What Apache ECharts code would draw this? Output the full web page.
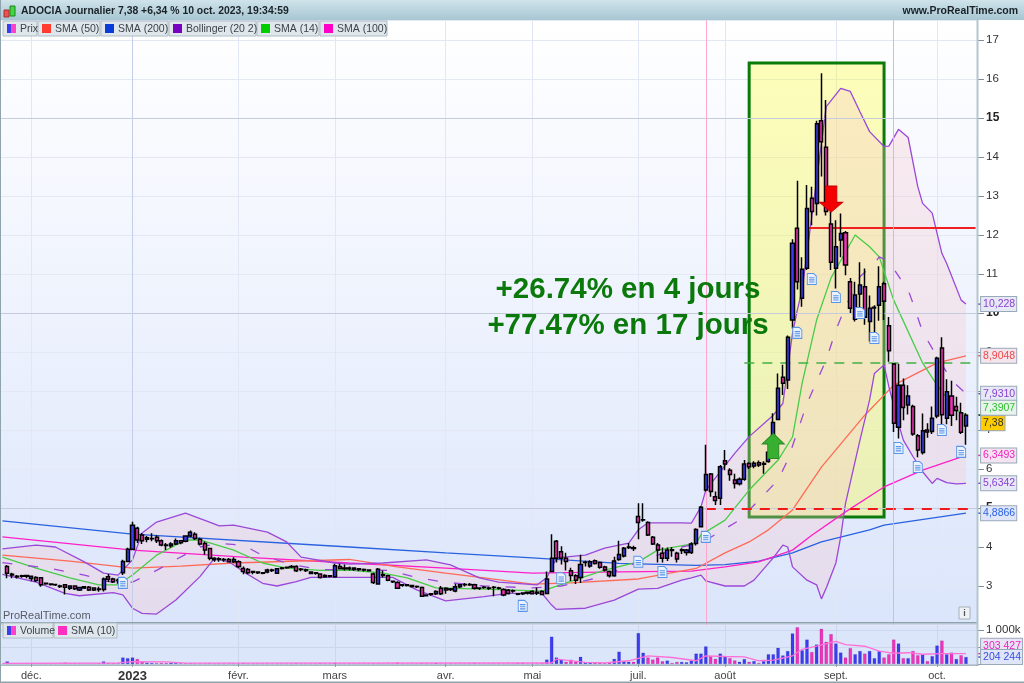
<!DOCTYPE html>
<html><head><meta charset="utf-8">
<style>html,body{margin:0;padding:0;background:#fff}#c{width:1024px;height:683px}</style>
<script src="https://cdn.jsdelivr.net/npm/echarts@6/dist/echarts.min.js"></script>
</head><body><div id="c"></div>
<script>
// [open, close, low, high] per session
const candles=[
[3.50,3.33,3.20,3.54],[3.30,3.28,3.20,3.34],[3.25,3.24,3.19,3.28],[3.26,3.25,3.21,3.29],[3.27,3.25,3.20,3.29],[3.19,3.25,3.12,3.27],[3.22,3.14,3.10,3.25],[3.21,3.03,2.98,3.23],[3.07,3.06,3.03,3.09],[3.05,3.04,3.01,3.07],
[3.04,3.03,3.00,3.06],[3.00,2.99,2.95,3.03],[3.03,2.97,2.78,3.05],[2.94,3.00,2.90,3.02],[3.00,2.93,2.90,3.02],[2.90,2.96,2.87,2.98],[2.98,2.95,2.92,3.00],[2.97,2.90,2.87,3.00],[2.95,2.90,2.87,2.97],[2.92,2.91,2.85,2.98],
[2.91,3.18,2.86,3.22],[3.24,3.17,3.10,3.31],[3.18,3.11,3.08,3.21],[3.15,3.14,3.06,3.19],[3.34,3.63,3.28,3.67],[3.63,3.94,3.62,3.98],[3.94,4.56,3.94,4.65],[4.48,4.18,4.10,4.52],[4.31,4.16,4.08,4.36],[4.24,4.20,4.12,4.28],
[4.22,4.21,4.15,4.35],[4.25,4.16,4.10,4.30],[4.16,4.05,4.02,4.19],[4.05,4.04,3.92,4.10],[4.03,4.08,3.98,4.12],[4.08,4.16,4.05,4.22],[4.16,4.11,4.07,4.18],[4.15,4.28,4.12,4.30],[4.28,4.38,4.25,4.42],[4.33,4.22,4.18,4.38],
[4.20,4.08,4.04,4.24],[4.09,3.92,3.80,4.14],[3.96,3.71,3.66,3.98],[3.71,3.67,3.62,3.74],[3.70,3.68,3.62,3.74],[3.68,3.67,3.62,3.72],[3.68,3.62,3.60,3.72],[3.62,3.68,3.59,3.74],[3.62,3.50,3.46,3.66],[3.45,3.37,3.30,3.50],
[3.42,3.34,3.30,3.46],[3.37,3.35,3.30,3.39],[3.36,3.34,3.31,3.38],[3.34,3.33,3.30,3.36],[3.36,3.41,3.33,3.44],[3.41,3.40,3.36,3.44],[3.33,3.44,3.31,3.46],[3.46,3.45,3.42,3.49],[3.48,3.47,3.44,3.50],[3.50,3.49,3.46,3.54],
[3.50,3.39,3.36,3.53],[3.43,3.42,3.38,3.46],[3.41,3.40,3.36,3.44],[3.36,3.32,3.30,3.38],[3.34,3.33,3.29,3.36],[3.31,3.22,3.19,3.33],[3.27,3.24,3.21,3.30],[3.26,3.25,3.22,3.28],[3.24,3.52,3.21,3.57],[3.50,3.45,3.42,3.58],
[3.46,3.44,3.40,3.55],[3.46,3.44,3.40,3.50],[3.46,3.43,3.39,3.48],[3.44,3.42,3.38,3.46],[3.42,3.41,3.37,3.45],[3.41,3.39,3.37,3.43],[3.31,3.09,3.05,3.34],[3.05,3.43,3.04,3.46],[3.29,3.27,3.22,3.40],[3.26,3.15,3.12,3.29],
[3.12,3.11,3.08,3.14],[3.09,2.94,2.92,3.12],[3.03,3.02,2.98,3.05],[3.03,3.01,2.99,3.05],[3.01,2.99,2.96,3.03],[2.99,2.98,2.95,3.01],[2.96,2.74,2.72,2.99],[2.77,2.75,2.73,2.79],[2.80,2.79,2.75,2.82],[2.80,2.86,2.77,2.89],
[2.94,2.80,2.77,3.00],[2.94,2.90,2.80,2.97],[2.92,2.91,2.87,2.95],[2.87,2.98,2.84,3.06],[2.98,3.03,2.95,3.05],[3.04,3.03,2.99,3.08],[3.04,3.03,3.00,3.08],[3.03,2.94,2.91,3.06],[2.95,2.94,2.90,2.97],[2.97,2.96,2.93,3.00],
[2.95,2.94,2.90,2.98],[2.97,2.96,2.74,3.00],[2.95,2.94,2.91,2.98],[2.91,2.77,2.74,2.94],[2.89,2.81,2.78,2.92],[2.88,2.87,2.83,2.91],[2.80,2.79,2.76,2.82],[2.82,2.80,2.77,2.84],[2.84,2.82,2.78,2.86],[2.86,2.80,2.78,2.89],
[2.84,2.82,2.77,2.96],[2.86,2.78,2.76,2.89],[2.81,3.18,2.79,3.37],[3.37,3.71,3.35,4.33],[4.15,3.71,3.60,4.18],[3.88,3.71,3.55,4.02],[3.71,3.63,3.40,3.85],[3.39,3.27,3.13,3.47],[3.26,3.15,3.05,3.30],[3.22,3.55,3.08,3.80],
[3.61,3.60,3.50,3.65],[3.51,3.62,3.47,3.66],[3.65,3.58,3.55,3.68],[3.60,3.48,3.44,3.63],[3.49,3.41,3.37,3.52],[3.37,3.26,3.22,3.40],[3.26,3.64,3.24,3.75],[3.68,3.81,3.65,4.16],[3.77,3.97,3.73,4.00],[4.00,3.99,3.95,4.10],
[3.98,3.96,3.90,4.03],[4.78,4.63,4.20,5.12],[4.70,4.69,4.65,5.12],[4.63,4.31,4.28,4.66],[4.25,4.08,4.05,4.28],[4.05,3.92,3.60,4.10],[3.84,3.71,3.60,3.99],[3.71,3.92,3.64,3.99],[3.93,3.91,3.75,4.00],[3.84,3.69,3.60,3.88],
[3.93,3.91,3.82,3.97],[3.86,3.92,3.78,3.95],[3.86,4.08,3.82,4.12],[4.09,4.45,4.04,4.48],[4.52,5.02,4.50,5.05],[5.46,5.86,5.42,6.62],[5.87,5.42,5.29,5.90],[5.29,5.19,5.08,5.42],[5.25,6.06,5.08,6.10],[6.21,6.13,5.97,6.49],
[5.97,5.86,5.70,6.02],[5.72,5.63,5.50,5.88],[5.62,5.74,5.58,5.78],[5.74,6.13,5.70,6.23],[6.14,6.06,6.00,6.17],[6.08,6.15,6.02,6.20],[6.16,6.10,6.05,6.22],[6.14,6.12,5.88,6.20],[6.19,6.43,6.16,6.47],[6.43,7.19,6.42,7.43],
[7.27,8.07,7.25,8.45],[8.35,8.20,7.90,8.67],[8.28,9.38,8.05,9.42],[9.82,11.79,9.60,11.89],[12.17,10.80,10.60,13.39],[10.38,11.12,10.16,11.43],[11.15,12.68,11.10,13.28],[12.94,12.60,12.25,13.24],[12.81,14.85,12.50,14.93],[14.93,14.39,13.50,16.15],
[14.25,12.60,12.50,15.46],[12.28,11.30,11.10,12.60],[11.15,11.70,10.63,12.38],[11.87,12.04,11.43,12.55],[12.06,11.23,10.97,12.10],[10.80,10.12,10.00,10.90],[9.84,10.46,9.78,10.80],[10.49,10.72,10.00,11.30],[10.67,9.89,9.70,11.14],[9.78,10.12,9.27,10.45],
[10.13,10.15,9.30,10.20],[10.20,10.67,9.80,11.20],[10.75,10.30,9.82,10.80],[9.67,9.03,8.75,9.90],[8.69,7.17,6.95,8.72],[7.07,8.15,6.78,8.70],[8.15,7.58,7.25,8.32],[7.64,7.87,7.40,8.15],[7.60,6.90,6.85,7.65],[6.85,6.49,6.30,6.90],
[6.42,6.98,6.37,7.42],[7.00,6.95,6.80,7.17],[6.96,7.30,6.90,7.60],[7.36,8.84,7.30,8.88],[9.10,7.39,6.92,9.38],[7.30,7.98,7.15,8.30],[7.87,7.38,7.10,8.26],[7.60,7.50,7.25,7.85],[7.44,6.94,6.90,7.70],[7.10,7.38,6.62,7.43]
];
const volumes=[75,20,20,20,20,20,20,20,15,15,15,20,40,20,20,15,15,15,15,20,75,30,25,20,190,170,190,145,65,40,30,25,30,30,35,30,25,20,20,15,15,15,20,15,15,15,15,15,15,30,
15,15,15,15,15,15,15,15,15,15,25,15,15,15,15,25,15,15,30,15,15,15,15,15,15,15,15,15,15,15,15,40,15,15,15,15,25,15,15,35,15,15,15,15,15,15,15,30,15,15,
15,15,15,15,15,15,30,30,15,15,15,30,130,800,190,125,65,125,65,210,55,50,40,35,30,40,150,360,85,65,65,905,330,190,130,190,80,100,30,60,60,50,100,305,305,515,
230,150,305,210,170,105,65,145,65,85,30,85,285,285,475,250,380,895,1075,400,715,350,570,1030,650,875,600,335,190,465,285,380,305,380,170,380,190,285,715,600,170,170,380,255,285,85,230,540,685,285,335,145,255,204];
// indicator readings: [session index, value]
const sma200=[[0,4.67],[27,4.33],[72,4.0],[92,3.85],[110,3.72],[128,3.58],[144,3.53],[150,3.55],[157,3.64],[164,3.85],[170,4.13],[180,4.44],[183,4.56],[200,4.87]];
const sma100=[[0,4.26],[27,3.92],[50,3.74],[72,3.59],[92,3.46],[110,3.33],[128,3.36],[143,3.38],[150,3.49],[157,3.62],[164,3.92],[168,4.30],[175,4.9],[183,5.54],[191,5.97],[200,6.35]];
const sma50=[[0,3.79],[14,3.64],[27,3.46],[37,3.51],[48,3.59],[72,3.68],[82,3.49],[92,3.33],[100,3.21],[110,3.05],[118,3.08],[132,3.18],[144,3.45],[150,3.85],[155,4.13],[159,4.44],[164,4.95],[170,6.05],[179,7.38],[185,8.15],[194,8.72],[200,8.9]];
const sma14=[[0,3.74],[7,3.46],[14,3.21],[20,3.03],[24,3.03],[27,3.28],[32,3.79],[38,4.18],[41,4.18],[48,3.92],[54,3.59],[59,3.46],[66,3.40],[72,3.41],[79,3.33],[84,3.21],[90,2.95],[100,2.92],[112,2.87],[117,3.08],[125,3.41],[132,3.62],[136,3.92],[144,4.10],[145,4.31],[150,4.69],[155,5.46],[161,6.23],[164,6.82],[166,8.2],[169,9.82],[172,10.9],[177,12.0],[180,11.7],[182,11.44],[185,10.33],[191,8.72],[194,8.15],[198,7.51],[200,7.39]];
const bollUpper=[[0,3.95],[7,4.05],[11,4.0],[17,3.62],[21,3.33],[24,3.28],[27,3.67],[29,4.36],[32,4.64],[38,4.87],[43,4.64],[45,4.54],[48,4.56],[55,4.38],[59,4.13],[62,3.74],[69,3.59],[72,3.56],[79,3.59],[88,3.67],[93,3.54],[99,3.21],[103,3.10],[111,3.03],[113,3.21],[115,3.72],[121,3.79],[125,3.97],[130,4.10],[132,4.44],[134,4.62],[141,4.62],[143,4.61],[145,5.03],[146,5.46],[152,6.4],[155,6.83],[160,7.38],[162,7.68],[164,9.48],[165,10.08],[166,10.59],[171,15.29],[174,15.76],[176,15.68],[178,15.16],[180,14.65],[183,14.27],[184,14.28],[186,14.71],[188,14.5],[190,13.24],[191,12.81],[193,12.56],[195,11.53],[196,11.27],[199,10.33],[200,10.23]];
const bollLower=[[0,3.3],[7,3.1],[13,2.81],[16,2.75],[23,2.83],[25,2.77],[27,2.43],[29,2.30],[32,2.28],[36,2.64],[41,3.24],[44,3.71],[47,3.62],[50,3.37],[54,3.07],[57,3.0],[61,3.11],[64,3.22],[72,3.22],[81,3.22],[86,2.9],[92,2.62],[100,2.73],[105,2.81],[112,2.81],[114,2.51],[115,2.4],[121,2.43],[127,2.64],[132,2.92],[136,2.94],[141,3.15],[143,3.21],[145,3.28],[146,3.13],[150,3.0],[154,3.0],[156,3.15],[160,3.72],[162,4.05],[163,4.0],[164,3.49],[167,3.15],[169,3.03],[170,2.67],[171,2.95],[173,3.59],[174,4.26],[175,5.12],[178,6.74],[180,7.77],[181,8.45],[183,8.67],[184,8.11],[186,7.17],[187,6.74],[189,6.32],[191,5.93],[193,5.63],[194,5.76],[196,5.65],[198,5.62],[200,5.63]];
const bollMid=[[0,3.6],[10,3.45],[17,3.28],[22,3.11],[27,3.1],[32,3.4],[36,3.68],[41,4.0],[45,4.09],[50,4.05],[54,3.78],[60,3.55],[66,3.42],[72,3.42],[80,3.4],[86,3.22],[91,3.11],[100,3.0],[110,2.95],[116,3.0],[124,3.22],[132,3.62],[141,4.0],[145,4.1],[153,4.69],[157,5.2],[161,5.72],[163,6.23],[167,7.68],[171,8.8],[173,9.56],[175,10.16],[178,10.93],[181,11.27],[182,11.44],[184,11.32],[187,10.76],[188,10.59],[189,10.25],[191,9.52],[194,8.88],[197,8.28],[200,7.93]];
const volSma=[[0,20],[24,30],[27,70],[34,60],[38,25],[110,30],[114,30],[115,140],[121,50],[125,30],[130,95],[134,240],[139,190],[144,95],[146,240],[150,220],[154,210],[157,95],[160,115],[164,240],[166,430],[169,520],[173,665],[175,570],[179,520],[182,380],[185,315],[188,330],[191,285],[195,305],[200,303]];
const monthLabels={6:'déc.',27:'2023',49:'févr.',69:'mars',92:'avr.',110:'mai',132:'juil.',150:'août',173:'sept.',194:'oct.'};
const noteIdx=[25,108,116,132,137,146,165,168,173,178,181,186,190,195,199];
const noteVal=[3.08,2.49,3.2,3.62,3.36,4.26,9.49,10.87,10.41,10.0,9.36,6.54,6.05,7.0,6.44];
const priceTags=[[10.228,'10,228','#8a3fd0','#e6e8f6',0],[8.9048,'8,9048','#f04848','#f4e4ec',0],[7.931,'7,9310','#8a3fd0','#e6e8f6',0],[7.3907,'7,3907','#30c030','#e6f4ea',-7],[7.38,'7,38','#333333','#ffcc00',8],[6.3493,'6,3493','#f020c0','#f4e4f2',0],[5.6342,'5,6342','#8a3fd0','#e6e8f6',0],[4.8666,'4,8866','#2a62e0','#dfe6fa',0]];
const volTags=[[303.427,'303 427','#f020c0','#e8e4f6',-8],[204.244,'204 244','#3a4ae0','#dfe6fa',0]];
const legendMain=[['Prix',null,34],['SMA (50)','#ff3b30',62],['SMA (200)','#0a3cd8',67],['Bollinger (20 2)','#7a00c0',87],['SMA (14)','#00cc00',62],['SMA (100)','#ff00c8',67]];
const legendVol=[['Volume',null,50],['SMA (10)','#ff30c0',63]];
const levels={red:12.19,green:8.73,redDash:4.97};

const FONT='"Liberation Sans",Arial,sans-serif', UP='#3c3cf0', DOWN='#f232b8';
const cats=Array.from({length:203},(_,i)=>monthLabels[i]||'');
const isMonth=i=>monthLabels[i]!==undefined;
const rows=[['-','-','-','-']].concat(candles);
const volBars=[{value:'-'}].concat(volumes.map((v,i)=>({value:v,itemStyle:{color:(i>0&&candles[i][1]<candles[i-1][1])?DOWN:UP}})));

function line(data,color,extra){return Object.assign({type:'line',data,showSymbol:false,symbol:'none',silent:true,z:4,clip:true,lineStyle:{color,width:1.3},xAxisIndex:0,yAxisIndex:0},extra||{});}
function tagPoints(tags){return tags.map(t=>({coord:[202,t[0]],symbol:'rect',symbolSize:[5,1.5],symbolOffset:[4,0],itemStyle:{color:t[2]},
  label:{show:true,position:'right',distance:0,offset:[-1,t[4]],formatter:t[1],color:t[2],fontFamily:FONT,fontSize:10.5,backgroundColor:t[3],borderColor:'#9aa9b8',borderWidth:1,padding:[2,1,1,2]}}));}

const gfx=[];
function R(x,y,w,h,fill,stroke,z,lw){gfx.push({type:'rect',shape:{x,y,width:w,height:h},silent:true,z:z,style:{fill,stroke:stroke||null,lineWidth:lw||1}});}
function T(x,y,text,font,fill,z,extra){gfx.push({type:'text',x,y,silent:true,z:z,style:Object.assign({text,font,fill,textVerticalAlign:'middle'},extra||{})});}
const grad=(c0,c1)=>({type:'linear',x:0,y:0,x2:0,y2:1,colorStops:[{offset:0,color:c0},{offset:1,color:c1}]});
// backgrounds
R(0,20,977,603,grad('#ffffff','#dbe5fb'),null,-5);
R(0,623,977,42,'#dce6fb',null,-5);
// header
R(0,0,1024,20,grad('#cfe3ea','#a7c6d2'),null,50);
R(4,10,5,7,'#f05050','#a03030',51);R(10,6,5,10,'#40d840','#208020',51);
T(21,11,'ADOCIA Journalier 7,38 +6,34 % 10 oct. 2023, 19:34:59','bold 10.4px '+FONT,'#1a2228',51);
T(1018,11,'www.ProRealTime.com','bold 10.5px '+FONT,'#1a2228',51,{textAlign:'right'});
// frames
R(0,622,977,1.6,'#8fa3ad',null,20);
R(976.5,20,2,646,'#b4c6cf',null,20);
R(0,664.8,978,1,'#8fa3ad',null,20);
R(0,681.5,1024,1.5,'#8fa3ad',null,50);
R(0,0,1,683,'#8fa3ad',null,50);
function chips(list,x0,y0){let x=x0;list.forEach(c=>{R(x,y0,c[2],15,'#dfe7ec','#aebcc4',52);
  if(c[1])R(x+4,y0+3,9,9,c[1],null,53);else{R(x+4,y0+3,4.5,9,'#3c3cf0',null,53);R(x+8.5,y0+3,4.5,9,'#ff40c8',null,53);}
  T(x+17,y0+8,c[0],'10.5px '+FONT,'#3c4348',53);x+=c[2]+1;});}
chips(legendMain,3,21);chips(legendVol,3,623);
T(3,616,'ProRealTime.com','11px '+FONT,'#555c62',30);
R(959,607,11,12,'#eef1f6','#a8b0b8',30);T(964.5,613.5,'i','bold 9px '+FONT,'#555',31,{textAlign:'center'});
T(628,290,'+26.74% en 4 jours','bold 29.5px '+FONT,'#0a780a',40,{textAlign:'center'});
T(628,326,'+77.47% en 17 jours','bold 29.5px '+FONT,'#0a780a',40,{textAlign:'center'});

const chart=echarts.init(document.getElementById('c'),null,{renderer:'canvas'});
chart.setOption({
 animation:false,
 graphic:{elements:gfx},
 grid:[{left:-2,width:980,top:20.5,height:604.5,containLabel:false},{left:-2,width:980,top:624,height:41,containLabel:false}],
 xAxis:[
  {type:'category',gridIndex:0,data:cats,boundaryGap:true,axisLine:{show:false},axisTick:{show:false},axisLabel:{show:false},
   splitLine:{show:true,alignWithLabel:true,interval:i=>isMonth(i),lineStyle:{color:'#e2e7f5',width:1}}},
  {type:'category',gridIndex:1,data:cats,boundaryGap:true,axisLine:{show:false},
   axisTick:{show:true,alignWithLabel:true,interval:i=>isMonth(i),length:3,lineStyle:{color:'#8fa3ad'}},
   axisLabel:{show:true,interval:i=>isMonth(i),margin:6,fontFamily:FONT,fontSize:11,color:'#444',hideOverlap:false,showMinLabel:true,showMaxLabel:true,
     formatter:v=>v==='2023'?'{b|2023}':v,rich:{b:{fontFamily:FONT,fontSize:13,fontWeight:'bold',color:'#333'}}},
   splitLine:{show:true,alignWithLabel:true,interval:i=>isMonth(i),lineStyle:{color:'#cdd6ec',width:1}}}
 ],
 yAxis:[
  {type:'value',gridIndex:0,position:'right',min:2,max:17.5,interval:1,axisLine:{show:false},
   axisTick:{show:true,length:6,lineStyle:{color:'#7f8f9a'}},
   axisLabel:{margin:8,showMaxLabel:false,showMinLabel:false,fontFamily:FONT,fontSize:11.5,color:'#333',
    formatter:v=>(v%5===0)?`{b|${v}}`:String(v),rich:{b:{fontFamily:FONT,fontSize:12,fontWeight:'bold',color:'#222'}}},
   splitLine:{show:true,lineStyle:{color:'#e4e8f4',width:1}}},
  {type:'value',gridIndex:1,position:'right',min:0,max:1171,interval:500,axisLine:{show:false},
   axisTick:{show:true,length:6,lineStyle:{color:'#7f8f9a'}},
   axisLabel:{margin:8,showMaxLabel:false,fontFamily:FONT,fontSize:11.5,color:'#333',formatter:v=>v===1000?'1 000k':''},
   splitLine:{show:true,lineStyle:{color:'#cdd6ec',width:1}}}
 ],
 series:[
  // yellow fill and strong grid levels behind everything
  {type:'line',data:[],z:1,silent:true,
   markArea:{silent:true,itemStyle:{color:'rgba(255,255,0,0.27)'},data:[[{coord:[155,16.41]},{coord:[183,4.77]}]]},
   markLine:{silent:true,symbol:'none',label:{show:false},lineStyle:{color:'#c6cbdb',type:'solid',width:1},
     data:[{yAxis:5},{yAxis:10},{yAxis:15},{xAxis:27,lineStyle:{color:'#c4cee8'}}]}},
  {type:'custom',silent:true,z:1,clip:true,data:[0],renderItem:(p,api)=>{
    const pts=bollUpper.map(d=>api.coord(d)).concat(bollLower.slice().reverse().map(d=>api.coord(d)));
    return {type:'polygon',shape:{points:pts},style:{fill:'rgba(250,200,205,0.3)',stroke:null}};}},
  line(sma200,'#2a62e0',{name:'SMA (200)'}),
  line(sma100,'#ff20c8',{name:'SMA (100)'}),
  line(sma50,'#ff6a58',{name:'SMA (50)'}),
  line(sma14,'#48cc48',{name:'SMA (14)'}),
  line(bollUpper,'#9a48d8',{name:'Bollinger haut'}),
  line(bollLower,'#9a48d8',{name:'Bollinger bas'}),
  line(bollMid,'#9a48d8',{name:'Bollinger milieu',lineStyle:{color:'#9a48d8',width:1.3,type:[10,16]}}),
  {type:'candlestick',name:'Prix',data:rows,barWidth:3.6,silent:true,z:5,
   itemStyle:{color:UP,color0:DOWN,borderColor:'#000',borderColor0:'#000',borderColorDoji:'#000',borderWidth:1.5}},
  // annotation levels, pink verticals, green box
  {type:'line',data:[],z:6,silent:true,
   markLine:{silent:true,symbol:'none',label:{show:false},data:[
    [{coord:[167,levels.red],lineStyle:{color:'#f02020',width:2,type:'solid'}},{coord:[202,levels.red]}],
    [{coord:[154,levels.green],lineStyle:{color:'#44b044',width:1.6,type:[10,8]}},{coord:[202,levels.green]}],
    [{coord:[146,levels.redDash],lineStyle:{color:'#f01818',width:2,type:[10,8]}},{coord:[202,levels.redDash]}],
    [{coord:[146,17.5],lineStyle:{color:'#ffa6cc',width:1,type:'solid'}},{coord:[146,2]}],
    [{coord:[185,17.5],lineStyle:{color:'#ffa6cc',width:1,type:'solid'}},{coord:[185,2]}]
   ]},
   markArea:{silent:true,itemStyle:{color:'rgba(0,0,0,0)',borderColor:'#0a7a0a',borderWidth:3},data:[[{coord:[155,16.41]},{coord:[183,4.77]}]]}},
  {type:'scatter',name:'Notes',silent:true,z:7,data:noteIdx.map((x,i)=>[x,noteVal[i]]),
   symbol:'path://M0 0H7L10 3V13H0Z M2 5H8 M2 7.5H8 M2 10H8',symbolSize:[9,11],
   itemStyle:{color:'#eaf2ff',borderColor:'#5a94e6',borderWidth:1,opacity:1}},
  {type:'scatter',name:'Flèches',silent:true,z:8,data:[
    {value:[160,6.59],symbol:'path://M5 0L10 5H7.5V12H2.5V5H0Z',symbolSize:[22,25],itemStyle:{color:'#36b02e',borderColor:'#2a8a2a',borderWidth:1,opacity:1}},
    {value:[172,12.92],symbol:'path://M2.5 0H7.5V7.5H10L5 12L0 7.5H2.5Z',symbolSize:[23,26],itemStyle:{color:'#f40000',borderColor:'#d00000',borderWidth:1,opacity:1}}]},
  {type:'line',data:[],z:9,silent:true,markPoint:{silent:true,data:tagPoints(priceTags)}},
  {type:'bar',name:'Volume',xAxisIndex:1,yAxisIndex:1,data:volBars,barWidth:3.4,silent:true,z:3,itemStyle:{borderColor:'rgba(20,20,120,0.35)',borderWidth:0.4}},
  line(volSma,'#ff70d8',{name:'SMA (10)',xAxisIndex:1,yAxisIndex:1}),
  {type:'line',xAxisIndex:1,yAxisIndex:1,data:[],z:9,silent:true,markPoint:{silent:true,data:tagPoints(volTags)}}
 ]
});
</script></body></html>
